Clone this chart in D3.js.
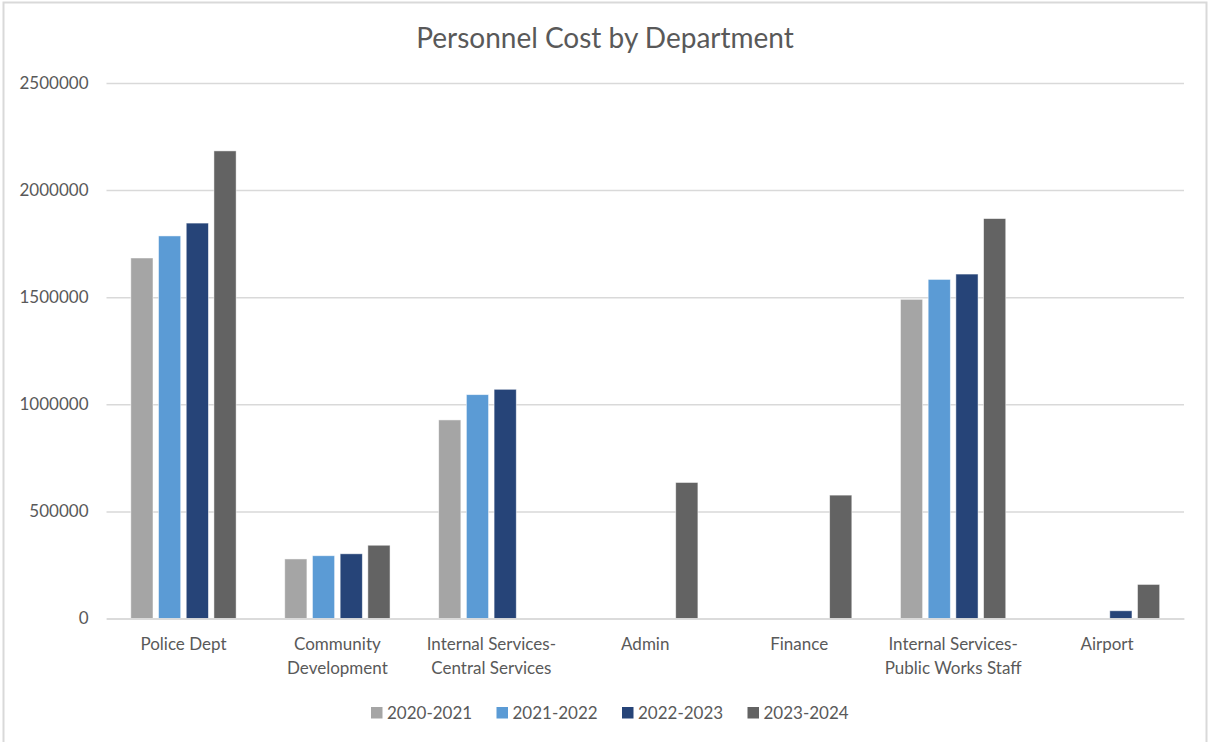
<!DOCTYPE html>
<html>
<head>
<meta charset="utf-8">
<script src="https://cdn.jsdelivr.net/npm/d3@7"></script>
<style>
  html, body { margin: 0; padding: 0; background: #fff; }
  svg { display: block; font-family: Lato, "Open Sans", sans-serif; }
</style>
</head>
<body>
<svg id="chart" width="1208" height="742"></svg>
<script>
const title = "Personnel Cost by Department";
const categories = [
  "Police Dept",
  "Community\nDevelopment",
  "Internal Services-\nCentral Services",
  "Admin",
  "Finance",
  "Internal Services-\nPublic Works Staff",
  "Airport"
];
const seriesNames = ["2020-2021", "2021-2022", "2022-2023", "2023-2024"];
const s2020 = [1683000, 278000, 927000, null, null, 1490000, null];
const s2021 = [1786000, 293000, 1045000, null, null, 1583000, null];
const s2022 = [1846000, 302000, 1070000, null, null, 1608000, 36000];
const s2023 = [2183000, 342000, null, 635000, 576000, 1867000, 159000];
const seriesValues = [s2020, s2021, s2022, s2023];
const colors = ["#A5A5A5", "#5B9BD5", "#264478", "#636363"];
const yTicks = [0, 500000, 1000000, 1500000, 2000000, 2500000];

const svg = d3.select("#chart");
const W = 1208, H = 742;
const plot = { left: 106.5, right: 1184, top: 83, bottom: 618.5 };

// chart frame
svg.append("rect")
  .attr("x", 3.5).attr("y", 2.5).attr("width", W - 5).attr("height", H + 5)
  .attr("fill", "#fff").attr("stroke", "#d9d9d9").attr("stroke-width", 2);

const x0 = d3.scaleBand().domain(categories).range([plot.left, plot.right]).paddingInner(0).paddingOuter(0);
const bw = x0.bandwidth();
const groupW = bw * 0.684;
const x1 = d3.scaleBand().domain(seriesNames)
  .range([(bw - groupW) / 2, (bw + groupW) / 2]).paddingInner(0.2).paddingOuter(0);
const y = d3.scaleLinear().domain([0, 2500000]).range([plot.bottom, plot.top]);

// gridlines
const yAxis = d3.axisLeft(y).tickValues(yTicks).tickFormat(d3.format("d"))
  .tickSize(-(plot.right - plot.left)).tickPadding(18);
const gy = svg.append("g").attr("transform", `translate(${plot.left},0)`).call(yAxis);
gy.select(".domain").remove();
gy.selectAll(".tick line").attr("stroke", "#d9d9d9").attr("stroke-width", 1.5);
gy.selectAll(".tick text").attr("fill", "#595959").style("font-size", "17px")
  .style("font-family", "Lato, sans-serif");

// bars
const data = [];
categories.forEach((c, i) => {
  seriesNames.forEach((s, j) => {
    const v = seriesValues[j][i];
    if (v != null) data.push({ c, s, v, j });
  });
});
svg.append("g").selectAll("rect").data(data).join("rect")
  .attr("x", d => x0(d.c) + x1(d.s))
  .attr("width", x1.bandwidth())
  .attr("y", d => y(d.v))
  .attr("height", d => y(0) - y(d.v))
  .attr("fill", d => colors[d.j])
  .attr("stroke", "#ffffff").attr("stroke-opacity", 0.6).attr("stroke-width", 0.8);

// x axis
const xAxis = d3.axisBottom(x0).tickSize(0).tickPadding(0).tickFormat("");
const gx = svg.append("g").attr("transform", `translate(0,${plot.bottom})`).call(xAxis);
gx.select(".domain").attr("stroke", "#d9d9d9").attr("stroke-width", 1.5);
gx.selectAll(".tick").each(function(d) {
  const t = d3.select(this).append("text")
    .attr("fill", "#595959").attr("text-anchor", "middle")
    .style("font-size", "17px").style("font-family", "Lato, sans-serif");
  d.split("\n").forEach((line, k) => {
    t.append("tspan").attr("x", 0).attr("y", 31 + k * 24).text(line);
  });
});

// title
svg.append("text")
  .attr("x", 605).attr("y", 48).attr("text-anchor", "middle")
  .attr("fill", "#595959").style("font-size", "28px").style("font-family", "Lato, sans-serif")
  .text(title);

// legend
const legendStart = 371, legendStep = 125.5;
const lg = svg.append("g");
seriesNames.forEach((s, j) => {
  const g = lg.append("g").attr("transform", `translate(${legendStart + j * legendStep},0)`);
  g.append("rect").attr("x", 0).attr("y", 707).attr("width", 11.5).attr("height", 11.5).attr("fill", colors[j]);
  g.append("text").attr("x", 16).attr("y", 719).attr("fill", "#595959")
    .style("font-size", "17px").style("font-family", "Lato, sans-serif").text(s);
});
</script>
</body>
</html>
